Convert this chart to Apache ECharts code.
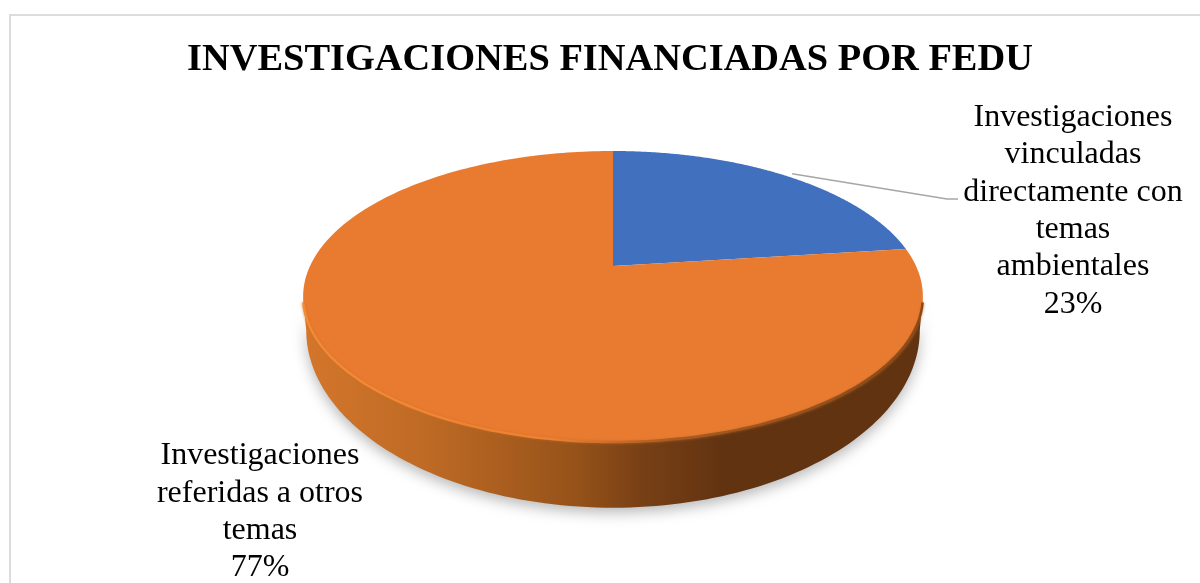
<!DOCTYPE html>
<html><head><meta charset="utf-8">
<style>html,body{margin:0;padding:0;background:#fff}#c{width:1200px;height:583px}</style>
<script src="https://cdn.jsdelivr.net/npm/echarts@6/dist/echarts.min.js"></script>
</head><body><div id="c"></div>
<script>
const titleText = 'INVESTIGACIONES FINANCIADAS POR FEDU';
const categories = ['Investigaciones vinculadas directamente con temas ambientales', 'Investigaciones referidas a otros temas'];
const labelLines = [
  ['Investigaciones','vinculadas','directamente con','temas','ambientales'],
  ['Investigaciones','referidas a otros','temas']
];
const values = [23, 77];

// perspective disc geometry
const CX = 613, CY = 266, K = 303, Q = 139.1, P = 0.2096;
const total = values.reduce((a, b) => a + b, 0);
const proj = t => {
  const u = Math.sin(t), v = Math.cos(t), w = 1 + P * v;
  return [CX + K * u / w, CY - Q * v / w];
};
const projLow = t => {
  const p = proj(t);
  return [CX + (p[0] - CX) * 0.99, CY + (p[1] - CY) * 1.22 + 27];
};
const TL = Math.acos(-P), TR = 2 * Math.PI - TL;
const arc = (f, a, b, n) => Array.from({length: n + 1}, (_, i) => f(a + (b - a) * i / n));
const frac = i => values.slice(0, i).reduce((a, b) => a + b, 0) / total;
const colors = ['#4170BE', '#E97B30'];

function renderItem(params, api) {
  const i = params.dataIndex;
  const a0 = frac(i) * 2 * Math.PI, a1 = a0 + api.value(0) / total * 2 * Math.PI;
  const children = [];
  const s = Math.max(a0, TL), e = Math.min(a1, TR);
  if (e > s) {
    const sidePts = arc(proj, s, e, 120).concat(arc(projLow, e, s, 120));
    children.push({type: 'polygon', z2: 1, shape: {points: sidePts}, style: {
      fill: {type: 'linear', x: 303, y: 0, x2: 923, y2: 0, global: true, colorStops: [
        {offset: 0, color: '#D4762B'}, {offset: 0.2, color: '#BE6A25'},
        {offset: 0.44, color: '#965219'}, {offset: 0.55, color: '#773F15'},
        {offset: 0.68, color: '#623311'}, {offset: 1, color: '#623311'}]},
      shadowBlur: 14, shadowColor: 'rgba(0,0,0,0.28)', shadowOffsetY: 5
    }});
  }
  children.push({type: 'polygon', z2: 2,
    shape: {points: [[CX, CY]].concat(arc(proj, a0, a1, 240))},
    style: {fill: colors[i]}});
  if (e > s) {
    children.push({type: 'polyline', z2: 3, shape: {points: arc(proj, s + 0.04, e - 0.04, 120)}, style: {
      fill: 'none', lineWidth: 2.5, shadowBlur: 3, shadowColor: 'rgba(200,110,40,0.8)',
      stroke: {type: 'linear', x: 303, y: 0, x2: 923, y2: 0, global: true, colorStops: [
        {offset: 0, color: '#F58A35'}, {offset: 0.4, color: '#EE8030'},
        {offset: 0.6, color: '#A85A20'}, {offset: 1, color: '#8A4A18'}]}
    }});
  }
  const pct = Math.round(api.value(0) / total * 100) + '%';
  const txt = labelLines[i].concat(pct).join('\n');
  const labelPos = i === 0 ? [1073, 211] : [260, 512];
  children.push({type: 'text', z2: 5, style: {
    text: txt, x: labelPos[0], y: labelPos[1], align: 'center', verticalAlign: 'middle',
    fontFamily: '"Liberation Serif"', fontSize: 32, lineHeight: 37.3, fill: '#000'
  }});
  if (i === 0) {
    const m = proj((a0 + a1) / 2);
    children.push({type: 'polyline', z2: 4, shape: {points: [[m[0] + 6, m[1] - 2], [947, 199], [958, 199]]},
      style: {fill: 'none', stroke: '#A6A6A6', lineWidth: 1.5}});
  }
  return {type: 'group', children};
}

const chart = echarts.init(document.getElementById('c'), null, {renderer: 'canvas'});
chart.setOption({
  backgroundColor: '#fff',
  animation: false,
  title: {text: titleText, left: 605, top: 36, textAlign: 'center',
    textStyle: {fontFamily: '"Liberation Serif"', fontWeight: 'bold', fontSize: 38.4, color: '#000'}},
  graphic: [{type: 'rect', silent: true, z: -1, shape: {x: 10, y: 15, width: 1300, height: 700},
    style: {fill: '#fff', stroke: '#DCDCDC', lineWidth: 2}}],
  series: [{
    type: 'custom', coordinateSystem: 'none', renderItem, clip: false,
    data: categories.map((name, i) => ({name, value: [values[i]]}))
  }]
});
</script></body></html>
